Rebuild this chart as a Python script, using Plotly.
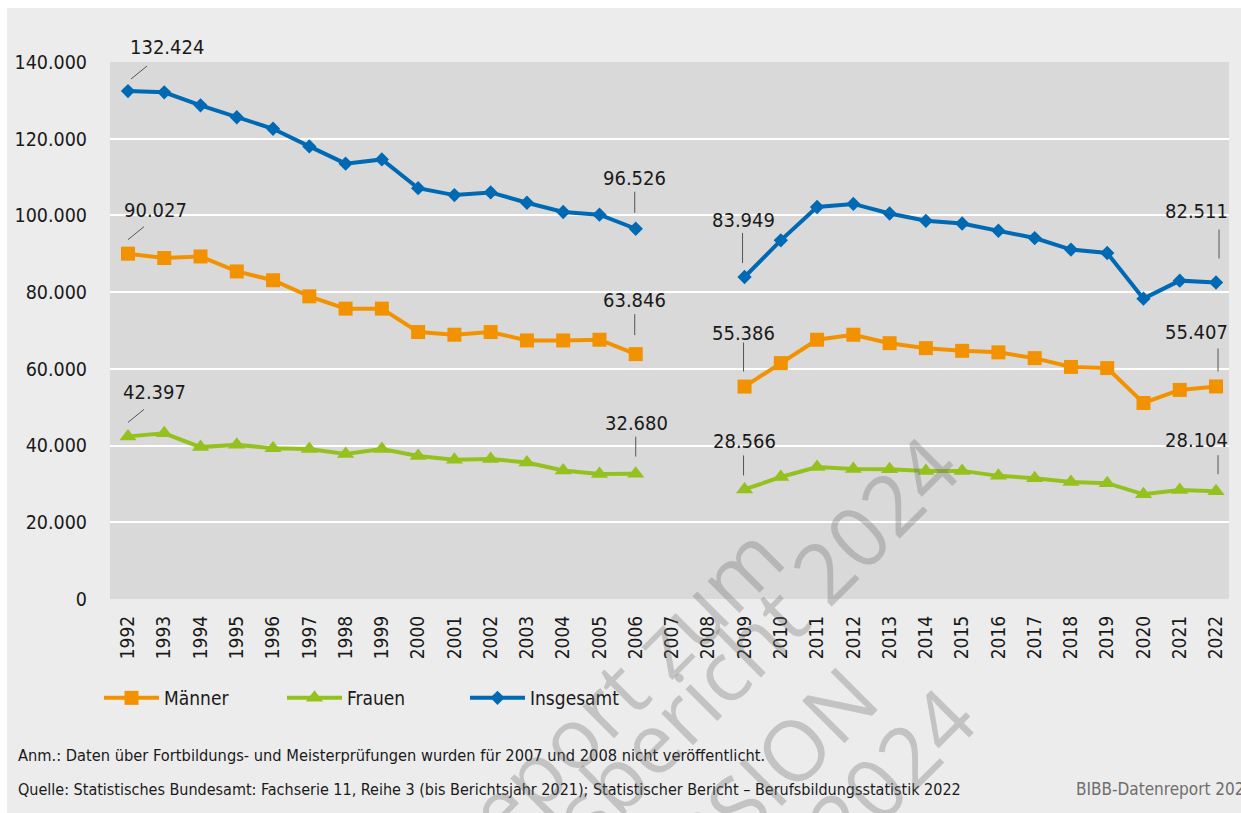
import plotly.graph_objects as go

# Fortbildungs- und Meisterprüfungen 1992-2022 (2007/2008 nicht veröffentlicht)
years = list(range(1992, 2023))
maenner = [90027, 88900, 89300, 85400, 83100, 78900, 75700, 75700, 69600, 68900,
           69600, 67400, 67400, 67600, 63846, None, None, 55386, 61500, 67600,
           68900, 66700, 65400, 64700, 64300, 62800, 60500, 60200, 51100, 54500,
           55407]
frauen = [42397, 43200, 39600, 40200, 39300, 39100, 37800, 39100, 37300, 36300,
          36500, 35600, 33500, 32600, 32680, None, None, 28566, 31800, 34400,
          33900, 33800, 33400, 33400, 32100, 31500, 30500, 30200, 27300, 28400,
          28104]
insgesamt = [132424, 132100, 128700, 125600, 122600, 118000, 113500, 114600, 107100,
             105300, 106000, 103300, 100900, 100200, 96526, None, None, 83949, 93500,
             102200, 103000, 100500, 98600, 97900, 96000, 94100, 91100, 90200, 78300,
             83000, 82511]
y_ticks = [0, 20000, 40000, 60000, 80000, 100000, 120000, 140000]

anm_text = "Anm.: Daten über Fortbildungs- und Meisterprüfungen wurden für 2007 und 2008 nicht veröffentlicht."
quelle_text = ("Quelle: Statistisches Bundesamt: Fachserie 11, Reihe 3 (bis Berichtsjahr 2021); "
               "Statistischer Bericht – Berufsbildungsstatistik 2022")
brand_text = "BIBB-Datenreport 2024"
watermark_lines = ["Datenreport zum", "Berufsbildungsbericht 2024", "VORABVERSION", "2024"]

ORANGE = "#f39200"
GREEN = "#95c11f"
BLUE = "#0069b4"
TEXT = "#1a1a1a"
FONT = "DejaVu Sans Condensed, Liberation Sans, sans-serif"

W, H = 1241, 813
PL, PR, PT, PB = 110, 1229, 62, 599   # plot area in pixels


def px_x(x):
    return (x - PL) / (PR - PL)


def px_y(y):
    return (PB - y) / (PB - PT)


def de(v):
    return f"{v:,}".replace(",", ".")


fig = go.Figure()

series = [
    ("Männer", maenner, ORANGE, "square", 14),
    ("Frauen", frauen, GREEN, "triangle-up", 15),
    ("Insgesamt", insgesamt, BLUE, "diamond", 11),
]
for name, vals, col, sym, size in series:
    fig.add_trace(go.Scatter(
        x=years, y=vals, name=name, mode="lines+markers",
        line=dict(color=col, width=4),
        marker=dict(symbol=sym, size=size, color=col),
        connectgaps=False,
    ))

# value labels with leader lines: (values, index, xshift, yshift, leader dx0, dy0, dx1, dy1)
callouts = [
    (insgesamt, 0, 39, 44, 3, 12, 19, 25),
    (maenner, 0, 28, 44, 0, 14, 16, 27),
    (frauen, 0, 27, 44, 0, 14, 16, 27),
    (insgesamt, 14, -1, 51, -1, 16, -1, 37),
    (maenner, 14, -1, 54, -1, 19, -1, 40),
    (frauen, 14, 1, 51, 0, 17, 0, 37),
    (insgesamt, 17, -1, 57, -2, 14, -2, 44),
    (maenner, 17, -1, 54, -1, 15, -1, 44),
    (frauen, 17, 0, 48, -1, 14, -1, 34),
    (insgesamt, 30, -20, 72, 3, 24, 3, 53),
    (maenner, 30, -20, 54, 2, 15, 2, 38),
    (frauen, 30, -20, 51, 2, 17, 2, 36),
]
for vals, i, xs, ys, dx0, dy0, dx1, dy1 in callouts:
    fig.add_annotation(x=years[i], y=vals[i], xref="x", yref="y", text=de(vals[i]),
                       showarrow=False, xshift=xs, yshift=ys,
                       font=dict(family=FONT, size=20, color=TEXT))
    fig.add_shape(type="line", xref="x", yref="y", xsizemode="pixel", ysizemode="pixel",
                  xanchor=years[i], yanchor=vals[i], x0=dx0, x1=dx1, y0=dy0, y1=dy1,
                  line=dict(color="#555555", width=1))

# white frame strips at top and left edge
fig.add_shape(type="rect", xref="paper", yref="paper", x0=px_x(0), x1=px_x(W),
              y0=px_y(8), y1=px_y(-5), fillcolor="white", line_width=0, layer="above")
fig.add_shape(type="rect", xref="paper", yref="paper", x0=px_x(-5), x1=px_x(7),
              y0=px_y(H + 5), y1=px_y(-5), fillcolor="white", line_width=0, layer="above")

# footnotes
fig.add_annotation(xref="paper", yref="paper", x=px_x(16), y=px_y(755), xanchor="left",
                   yanchor="middle", text=anm_text, showarrow=False,
                   font=dict(family=FONT, size=16.3, color=TEXT))
fig.add_annotation(xref="paper", yref="paper", x=px_x(16), y=px_y(789), xanchor="left",
                   yanchor="middle", text=quelle_text, showarrow=False,
                   font=dict(family=FONT, size=16, color=TEXT))
fig.add_annotation(xref="paper", yref="paper", x=px_x(1074), y=px_y(789), xanchor="left",
                   yanchor="middle", text=brand_text, showarrow=False,
                   font=dict(family=FONT, size=17, color="#6e6e6e"))

# diagonal watermark
wm_centers = [(528, 779), (560, 833), (640, 901), (890, 770)]
for txt, (cx, cy) in zip(watermark_lines, wm_centers):
    fig.add_annotation(xref="paper", yref="paper", x=px_x(cx), y=px_y(cy),
                       xanchor="center", yanchor="middle", text=txt, textangle=-45,
                       showarrow=False,
                       font=dict(family="Open Sans, sans-serif", size=84,
                                 color="rgba(110,110,110,0.32)"))

fig.update_layout(
    width=W, height=H,
    margin=dict(l=PL, r=W - PR, t=PT, b=H - PB, pad=0, autoexpand=False),
    paper_bgcolor="#ececec",
    plot_bgcolor="#d9d9d9",
    separators=",.",
    font=dict(family=FONT, size=19, color=TEXT),
    showlegend=True,
    legend=dict(orientation="h", x=px_x(99), y=px_y(698), xanchor="left", yanchor="middle",
                bgcolor="rgba(0,0,0,0)", itemwidth=55, entrywidth=113,
                font=dict(family=FONT, size=19, color=TEXT), traceorder="normal"),
    xaxis=dict(range=[1991.504, 2022.358], tickmode="array", tickvals=years,
               ticktext=[str(y) for y in years], tickangle=-90, showgrid=False,
               zeroline=False, showline=False, ticks="", ticklabelstandoff=12,
               automargin=False, tickfont=dict(family=FONT, size=19, color=TEXT)),
    yaxis=dict(range=[0, 140000], tickmode="array", tickvals=y_ticks, tickformat=",.0f",
               showgrid=True, gridcolor="white", gridwidth=2, zeroline=False,
               showline=False, ticks="", ticklabelstandoff=22, automargin=False,
               tickfont=dict(family=FONT, size=19.5, color=TEXT)),
)

fig.write_html("out.html")
